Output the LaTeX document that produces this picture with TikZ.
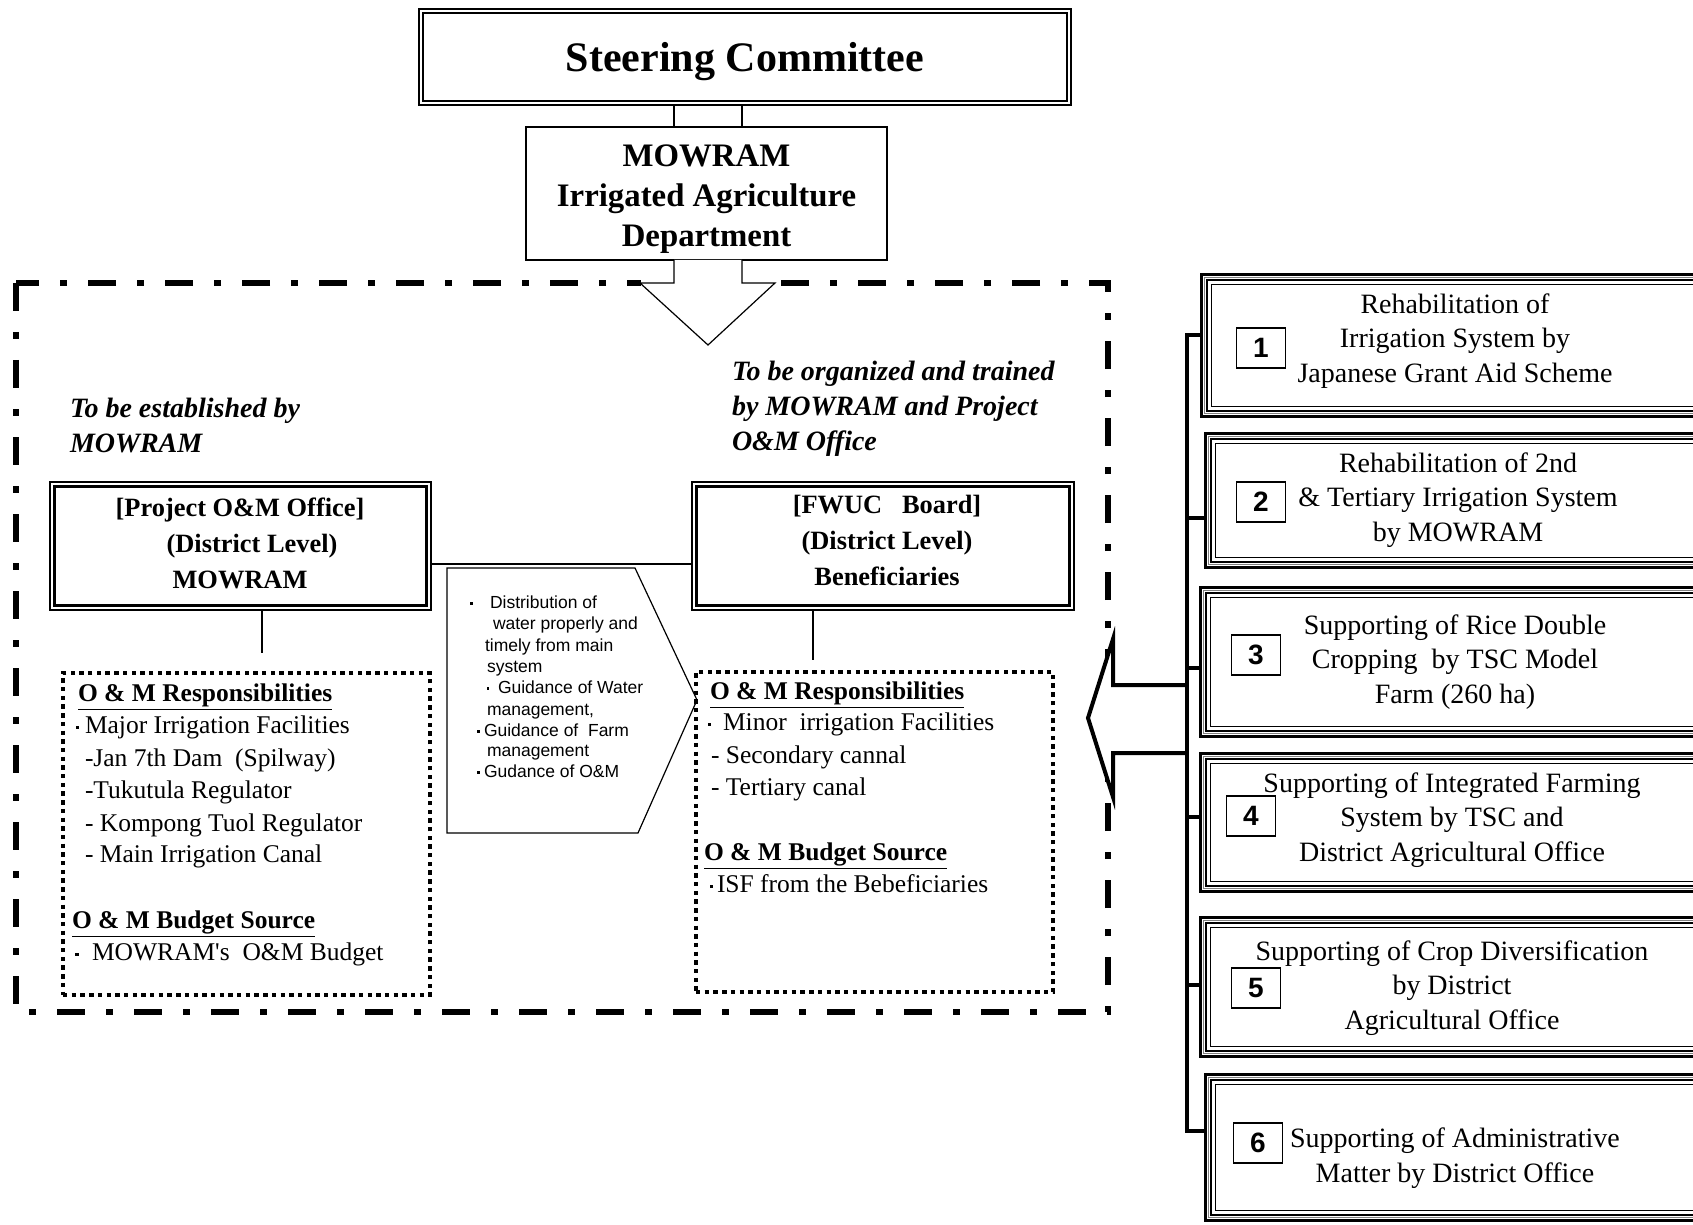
\documentclass[tikz,border=0pt]{standalone}
\usepackage{fontspec}
\setmainfont{Liberation Serif}
\setsansfont{Liberation Sans}
\usetikzlibrary{fit,calc}
\newcommand\fSC{\fontsize{21}{25}\selectfont}
\newcommand\fMO{\fontsize{16.4}{20}\selectfont}
\newcommand\fPJ{\fontsize{13.2}{18}\selectfont}
\newcommand\fIT{\fontsize{14}{17.5}\selectfont}
\newcommand\fDB{\fontsize{12.75}{16}\selectfont}
\newcommand\fRB{\fontsize{14}{17.25}\selectfont}
\newcommand\fPG{\fontsize{8.75}{10.7}\selectfont}
\newcommand\fNB{\fontsize{14}{16}\selectfont}
% square bullet: #1 gap to text, #2 size, #3 raise
\newcommand\sqbul[3]{\llap{\raisebox{#3}{\rule{#2}{#2}}\hspace{#1}}}
\begin{document}
\begin{tikzpicture}[x=0.5pt,y=-0.5pt,
  area/.style={inner sep=0pt, outer sep=0pt},
  txt/.style={inner sep=0pt, outer sep=0pt},
  frameline/.style={line width=3pt, dash pattern=on 14pt off 10.5pt on 3.5pt off 10.5pt},
  dotline/.style={line width=2pt, dash pattern=on 2.2pt off 2.15pt},
  thinline/.style={line width=0.6pt},
  badge/.style={draw, line width=0.6pt, minimum width=24.5pt, minimum height=20pt, inner sep=0pt, font=\sffamily\bfseries\fNB},
  dbtxt/.style={txt, anchor=base west, font=\fDB},
  pgtxt/.style={txt, anchor=base west, font=\sffamily\fPG},
  rbtxt/.style={txt, align=center, font=\fRB},
]
\useasboundingbox (0,0) rectangle (1693,1225);
\clip (0,0) rectangle (1693,1225);

% ---------- frame ----------
\draw[frameline] (16,283) rectangle (1108,1012);

% ---------- Steering Committee ----------
\node[area, fit={(418,8) (1072,106)}] (sc) {};
\draw[line width=1.15pt] ([shift={(1.2,1.2)}]sc.north west) rectangle ([shift={(-1.2,-1.2)}]sc.south east);
\draw[line width=0.65pt] ([shift={(5,5)}]sc.north west) rectangle ([shift={(-5,-5)}]sc.south east);
\node[txt, font=\bfseries\fSC] (sct) at (745,62) {Steering Committee};

% ---------- MOWRAM ----------
\node[area, fit={(526,127) (887,260)}, draw, thinline] (mow) {};
\node[txt, align=center, font=\bfseries\fMO] (mowt) at (706.5,199) {MOWRAM\\Irrigated Agriculture\\Department};

% stems and down arrow
\coordinate (sl) at (674,0);
\coordinate (sr) at (742,0);
\coordinate (ah) at (0,283);
\coordinate (dtip) at (708,345);
\draw[thinline] (sc.south -| sl) -- (mow.north -| sl);
\draw[thinline] (sc.south -| sr) -- (mow.north -| sr);
\fill[white] (641,279) rectangle (774,287.5);
\draw[thinline, fill=white] (mow.south -| sl) -- (sl |- ah) -- (640,283) -- (dtip) -- (775,283) -- (sr |- ah) -- (mow.south -| sr);

% ---------- italic labels ----------
\node[txt, anchor=west, align=left, font=\bfseries\itshape\fIT] (lab1) at (70,425) {To be established by\\MOWRAM};
\node[txt, anchor=west, align=left, font=\bfseries\itshape\fIT] (lab2) at (732,409) {To be organized and trained\\by MOWRAM and Project\\O\&M Office};

% ---------- Project O&M office ----------
\node[area, fit={(49,481) (432,611)}] (pj) {};
\draw[line width=0.85pt] ([shift={(0.85,0.85)}]pj.north west) rectangle ([shift={(-0.85,-0.85)}]pj.south east);
\draw[line width=1.2pt] ([shift={(5.5,5.5)}]pj.north west) rectangle ([shift={(-5.5,-5.5)}]pj.south east);
\node[txt, align=center, font=\bfseries\fPJ] (pjt) at (240,543) {[Project O\&M Office]\\\hspace*{12pt}(District Level)\\MOWRAM};

% ---------- FWUC board ----------
\node[area, fit={(691,481) (1075,611)}] (fw) {};
\draw[line width=0.85pt] ([shift={(0.85,0.85)}]fw.north west) rectangle ([shift={(-0.85,-0.85)}]fw.south east);
\draw[line width=1.2pt] ([shift={(5.5,5.5)}]fw.north west) rectangle ([shift={(-5.5,-5.5)}]fw.south east);
\node[txt, align=center, font=\bfseries\fPJ] (fwt) at (887,540) {[FWUC\ \ \ Board]\\(District Level)\\Beneficiaries};

% connectors
\coordinate (hy) at (0,564);
\draw[thinline] (pj.east |- hy) -- (fw.west |- hy);
\coordinate (pjd) at (262,653);
\draw[thinline] (pj.south -| pjd) -- (pjd);
\coordinate (fwd) at (813,660);
\draw[thinline] (fw.south -| fwd) -- (fwd);

% ---------- dotted boxes ----------
\node[area, fit={(63,673) (430,995)}, draw, dotline] (ld) {};
\node[area, fit={(696,672) (1053,992)}, draw, dotline] (rd) {};

\foreach \x/\y/\t [count=\i] in {
  78/701/{\bfseries\underline{O \& M Responsibilities}},
  85/733/{\sqbul{2.85pt}{1.6pt}{2.1pt}Major Irrigation Facilities},
  85/766/{-Jan 7th Dam\ \ (Spilway)},
  85/798/{-Tukutula Regulator},
  85/831/{- Kompong Tuol Regulator},
  85/862/{- Main Irrigation Canal},
  72/928/{\bfseries\underline{O \& M Budget Source}},
  92/960/{\sqbul{6.7pt}{1.6pt}{2.1pt}MOWRAM\textquotesingle s\ \ O\&M Budget}}
  \node[dbtxt] (L\i) at (\x,\y) {\t};

\foreach \x/\y/\t [count=\i] in {
  710/699/{\bfseries\underline{O \& M Responsibilities}},
  723/730/{\sqbul{5.85pt}{1.6pt}{2.1pt}Minor\ \ irrigation Facilities},
  711/763/{- Secondary cannal},
  711/795/{- Tertiary canal},
  704/860/{\bfseries\underline{O \& M Budget Source}},
  717/892/{\sqbul{2.05pt}{1.6pt}{2.1pt}ISF from the Bebeficiaries}}
  \node[dbtxt] (R\i) at (\x,\y) {\t};

% ---------- pentagon callout ----------
\coordinate (ptip) at (697,700);
\draw[thinline] (447,568) -- (635,568) -- (ptip) -- (638,833) -- (447,833) -- cycle;
\foreach \x/\y/\t [count=\i] in {
  490/608/{\sqbul{8.6pt}{1.3pt}{1.7pt}Distribution of},
  493/629/{water properly and},
  485/651/{timely from main},
  487/672/{system},
  498/693/{\sqbul{4.4pt}{1.3pt}{1.7pt}Guidance of Water},
  487/715/{management,},
  484/736/{\sqbul{2.2pt}{1.3pt}{1.7pt}Guidance of\ \ Farm},
  487/756/{management},
  484/777/{\sqbul{2.2pt}{1.3pt}{1.7pt}Gudance of O\&M}}
  \node[pgtxt] (P\i) at (\x,\y) {\t};

% ---------- right column boxes ----------
\node[area, fit={(1200,273) (1712,418)}] (b1) {};
\node[area, fit={(1204,432) (1712,569)}] (b2) {};
\node[area, fit={(1199,586) (1712,738)}] (b3) {};
\node[area, fit={(1199,752) (1712,893)}] (b4) {};
\node[area, fit={(1199,916) (1712,1058)}] (b5) {};
\node[area, fit={(1204,1073) (1712,1222)}] (b6) {};
\foreach \n in {b1,b2,b3,b4,b5,b6} {
  \draw[line width=1.35pt] ([shift={(1.35,1.35)}]\n.north west) rectangle ([shift={(-1.35,-1.35)}]\n.south east);
  \draw[line width=0.3pt, gray] ([shift={(4.4,4.4)}]\n.north west) rectangle ([shift={(-4.4,-4.4)}]\n.south east);
  \draw[line width=1.35pt] ([shift={(7,7)}]\n.north west) rectangle ([shift={(-7,-7)}]\n.south east);
  \draw[line width=0.85pt] ([shift={(11.5,11.5)}]\n.north west) rectangle ([shift={(-11.5,-11.5)}]\n.south east);
}
\node[rbtxt] (t1) at (1455,341) {Rehabilitation of\\Irrigation System by\\Japanese Grant Aid Scheme};
\node[rbtxt] (t2) at (1458,500) {Rehabilitation of 2nd\\\& Tertiary Irrigation System\\by MOWRAM};
\node[rbtxt] (t3) at (1455,662) {Supporting of Rice Double\\Cropping\ \ by TSC Model\\Farm (260 ha)};
\node[rbtxt] (t4) at (1452,820) {Supporting of Integrated Farming\\System by TSC and\\District Agricultural Office};
\node[rbtxt] (t5) at (1452,988) {Supporting of Crop Diversification\\by District\\Agricultural Office};
\node[rbtxt] (t6) at (1455,1158) {Supporting of Administrative\\Matter by District Office};

\node[badge] (n1) at (1261,348) {1};
\node[badge] (n2) at (1261,502) {2};
\node[badge] (n3) at (1256,655) {3};
\node[badge] (n4) at (1251,816) {4};
\node[badge] (n5) at (1256,988) {5};
\node[badge] (n6) at (1258,1143) {6};

% ---------- big left arrow ----------
\coordinate (ltip) at (1088,718);
\draw[line width=2pt, fill=white, line join=miter] (1187,685) -- (1113,685) -- (1113,639) -- (ltip) -- (1113,797) -- (1113,753) -- (1187,753);

% ---------- bus bar and ticks ----------
\foreach \b/\y [count=\i] in {b1/335,b2/518,b3/668,b4/817,b5/985,b6/1131} {
  \coordinate (k\i) at (1187,\y);
  \draw[line width=1.6pt] (k\i) -- (\b.west |- k\i);
}
\draw[line width=2pt] ([yshift=0.9pt]k1) -- ([yshift=-0.9pt]k6);
\end{tikzpicture}
\end{document}
